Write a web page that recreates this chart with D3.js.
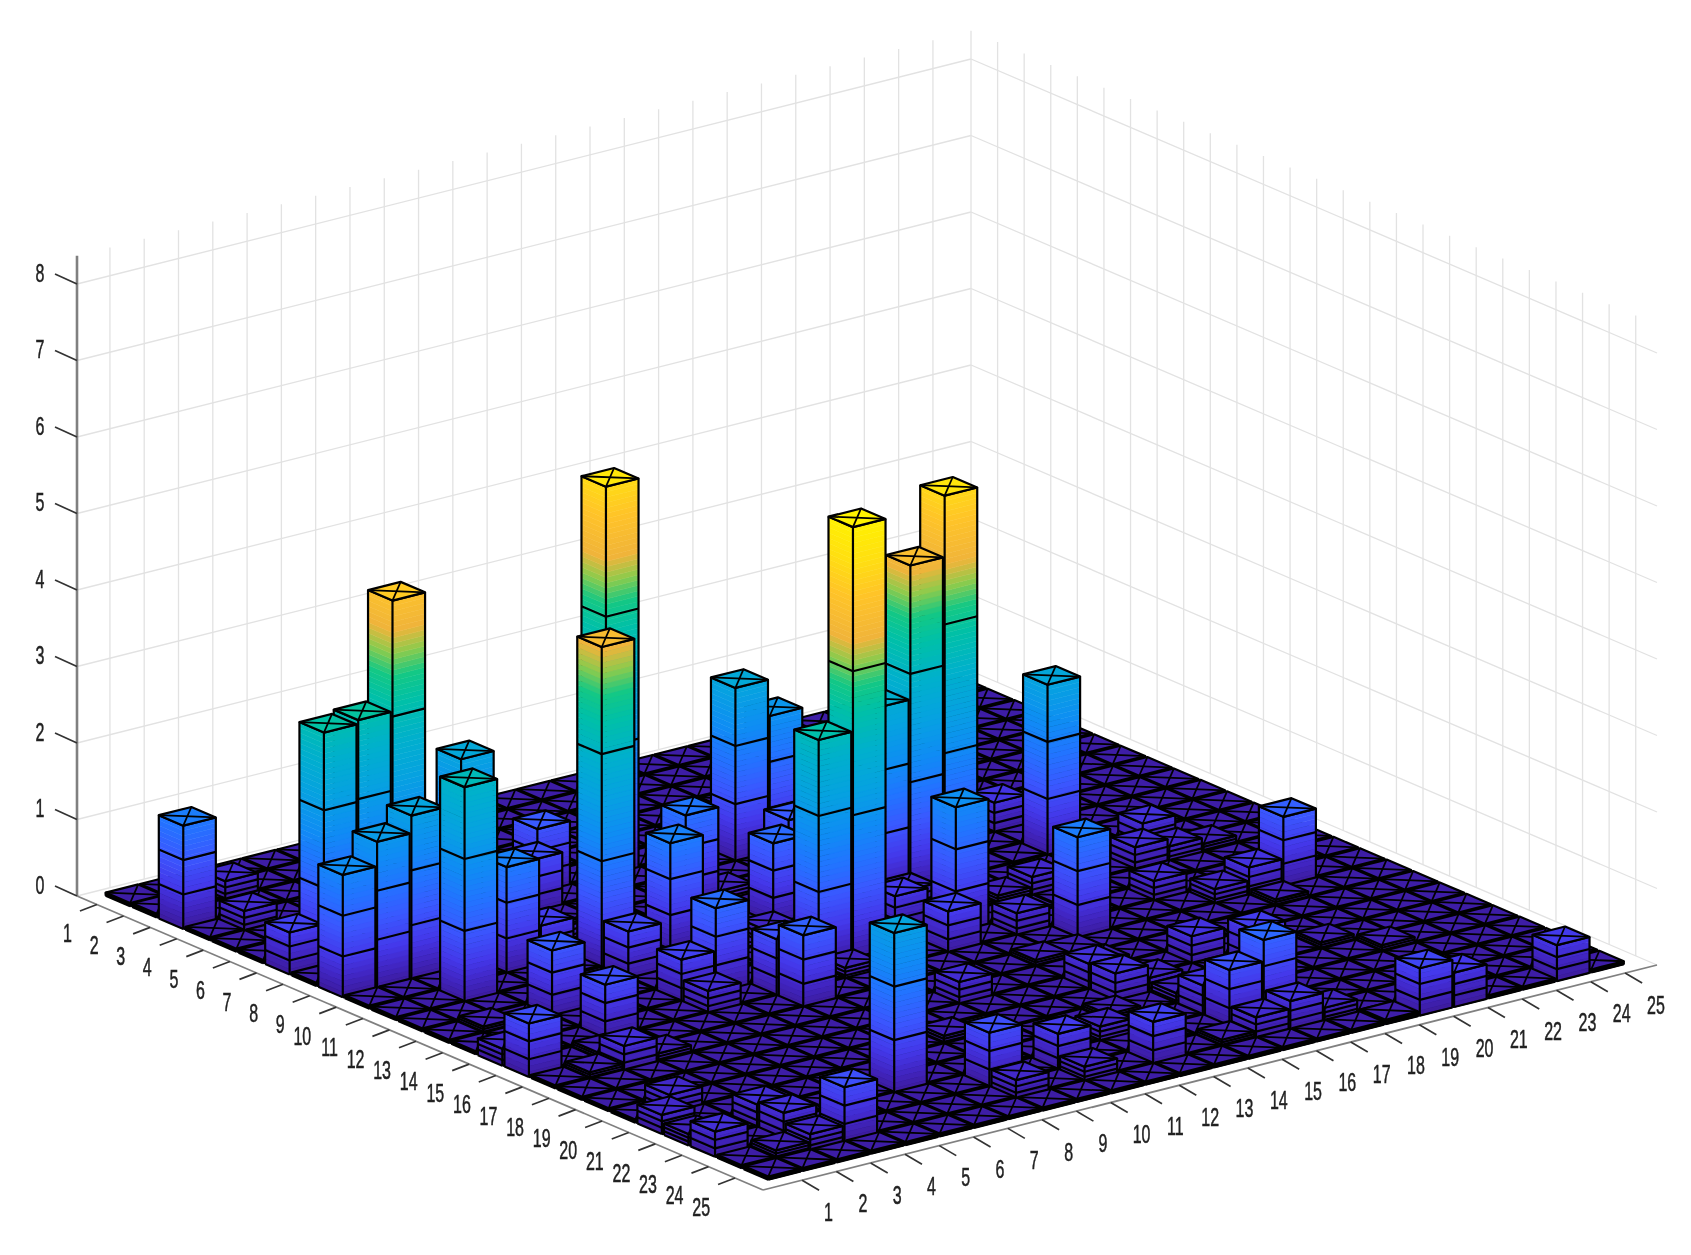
<!DOCTYPE html>
<html><head><meta charset="utf-8">
<script src="https://cdn.jsdelivr.net/npm/d3@7"></script>
<style>html,body{margin:0;background:#fff}svg{display:block}#plot{filter:blur(0.75px)}</style>
</head><body><svg id="c" width="1691" height="1255"></svg>
<script>
const barCol = [1,2,1,1,2,3,3,5,4,2,3,6,7,11,12,11,14,15,16,15,16,17,20,15,17,7,4,9,11,13,9,11,12,15,15,18,17,16,22,23,21,22,20,22,23,21,22,21,22,20,21,24,18,17,16,16,16,19,14,15,19,3,1,2,3,3,1,1,2,3,1,1,2,3,2,4,10,11,15,16,13,3,1,4,4,7,9,11,8,7,7,12,9,9,6,8,9,14,12,11,7,14,15,14,16,20,18,17,16,16];
const barRow = [3,4,7,9,9,9,11,10,7,7,7,7,11,6,14,14,7,7,9,11,11,11,11,14,16,22,24,23,23,24,24,24,18,20,19,19,23,23,16,16,13,12,15,13,13,16,17,20,21,25,25,25,24,24,24,22,21,20,21,24,25,24,23,24,23,22,21,22,20,17,16,15,13,16,17,17,20,15,17,20,22,2,2,13,15,12,11,9,14,14,15,11,16,15,10,7,6,9,9,12,9,13,12,15,15,9,13,13,17,18];
const barHeight = [1.35,.27,.55,1.6,1.92,2.15,2.82,1.4,4.55,3.05,3.1,2.25,4.2,5.1,5.65,2.98,2.28,1.8,1.96,2.5,4.25,5.05,2.24,1.65,1.33,2.1,.72,.72,.48,.56,.25,.2,.3,.37,.35,.37,1.03,.75,.37,.92,.3,.35,.27,.2,.12,.2,.1,.1,.1,.62,.45,.47,.18,.38,.28,.4,.15,.5,.1,.1,.06,.22,.33,.12,.35,.31,.25,.15,.25,.33,.7,.22,.1,.1,.1,.12,.12,.15,.1,.2,.2,.25,.05,.87,.72,.63,1.41,1.25,1.12,.56,.3,1.07,.95,.75,.52,.7,.85,.85,.15,.2,.2,.45,.25,.55,.3,.4,.25,.12,.08,.1];
const floorHeight = 0.04;
const xTicks = d3.range(1,26), yTicks = d3.range(1,26), zTicks = [0,1,2,3,4,5,6,7,8];
const colorStops = [0,.25,.5,.9,1.3,1.7,2.2,2.7,3.2,3.55,3.85,4.15,4.7,5.2,5.7];
const colorValues = ["#3c1a9a","#4126c4","#4438ea","#3a58ff","#2274ff","#0f8cf4","#06a2e0","#00b0cc","#00c0a8","#14c884","#8ccb4c","#f0b43a","#ffc428","#ffe010","#fff200"];

const X = d3.scaleLinear([-0.14,25.93],[0,1]), Y = d3.scaleLinear([0.25,26.05],[0,1]), Z = d3.scaleLinear([0,8],[0,-612]);
const origin=[77,896], ex=[894,-225], ey=[686,294];
const P=(x,y,z)=>[origin[0]+X(x)*ex[0]+Y(y)*ey[0], origin[1]+X(x)*ex[1]+Y(y)*ey[1]+Z(z)];
const col = d3.scaleLinear(colorStops,colorValues).clamp(true);
const svg=d3.select("#c"), g=svg.append("g").attr("id","plot");
const poly=(sel,pts,fill,stroke,sw)=>sel.append("polygon").attr("points",pts.map(p=>p.map(v=>v.toFixed(2)).join(",")).join(" ")).attr("fill",fill).attr("stroke",stroke).attr("stroke-width",sw).attr("stroke-linejoin","round");
const line=(sel,a,b,c,w)=>sel.append("line").attr("x1",a[0]).attr("y1",a[1]).attr("x2",b[0]).attr("y2",b[1]).attr("stroke",c).attr("stroke-width",w);

// walls
const grid=g.append("g"), gc="#e2e2e2", xa=-0.14, xb=25.93, ya=.25, yb=26.05, zt=8.37;
xTicks.forEach(t=>line(grid,P(t-.18,ya,0),P(t-.18,ya,zt),gc,1.3));
yTicks.forEach(t=>line(grid,P(xb,t+.25,0),P(xb,t+.25,zt),gc,1.3));
zTicks.forEach(t=>{line(grid,P(xa,ya,t),P(xb,ya,t),gc,1.3);line(grid,P(xb,ya,t),P(xb,yb,t),gc,1.3);});
line(grid,P(xb,ya,0),P(xb,ya,zt),gc,1.3);

// floor
poly(g,[P(.42,.62,0),P(25.35,.62,0),P(25.35,25.55,0),P(.42,25.55,0)],"#0c0630","#000",1.5);

// bars
const hmap=new Map(barCol.map((c,i)=>[c+"_"+barRow[i],barHeight[i]]));
const bars=g.append("g");
const w=.95, d=.92, lw=2.2;
for(let i=25;i>=1;i--) for(let j=1;j<=25;j++){
  const h=hmap.has(i+"_"+j)?hmap.get(i+"_"+j):floorHeight;
  const x0=i-.6,x1=x0+w,y1=j+.55,y0=y1-d;
  const b=bars.append("g");
  const n=Math.max(1,Math.ceil(h/.07));
  for(let k=0;k<n;k++){
    const a=h*k/n,c=h*(k+1)/n,f=col((a+c)/2);
    poly(b,[P(x0,y1,a),P(x1,y1,a),P(x1,y1,c),P(x0,y1,c)],f,f,.5);
    poly(b,[P(x0,y0,a),P(x0,y1,a),P(x0,y1,c),P(x0,y0,c)],f,f,.5);
  }
  [1,2,3].forEach(s=>{const z=h*s/3;
    line(b,P(x0,y0,z),P(x0,y1,z),"#000",lw);line(b,P(x0,y1,z),P(x1,y1,z),"#000",lw);});
  [[x0,y0],[x0,y1],[x1,y1]].forEach(q=>line(b,P(q[0],q[1],0),P(q[0],q[1],h),"#000",lw));
  line(b,P(x0,y0,0),P(x0,y1,0),"#000",lw);line(b,P(x0,y1,0),P(x1,y1,0),"#000",lw);
  poly(b,[P(x0,y0,h),P(x0,y1,h),P(x1,y1,h),P(x1,y0,h)],col(h*1.05+.03),"#000",lw);
  line(b,P(x0,y0,h),P(x1,y1,h),"#000",lw*.8);line(b,P(x1,y0,h),P(x0,y1,h),"#000",lw*.8);
}

// axes
const ax=g.append("g"), axc="#808080";
line(ax,P(xa,ya,0),P(xa,ya,zt),axc,2.6);
line(ax,P(xa,ya,0),P(xa,yb,0),axc,1.8);
line(ax,P(xa,yb,0),P(xb,yb,0),axc,1.8);
const tk="#333", label=(x,y,t,anchor)=>ax.append("text").attr("transform",`translate(${x},${y}) scale(.64,1)`).attr("text-anchor",anchor).attr("font-family","Liberation Sans").attr("font-size",25).attr("fill","#222").attr("stroke","#222").attr("stroke-width",.5).attr("dy","0.35em").text(t);
yTicks.forEach(t=>{const p=P(xa,t,0);line(ax,p,[p[0]-17,p[1]+6.5],tk,1.7);label(p[0]-25,p[1]+29,t,"end");});
xTicks.forEach(t=>{const p=P(t,yb,0);line(ax,p,[p[0]+17,p[1]+10],tk,1.7);label(p[0]+22,p[1]+32,t,"start");});
zTicks.forEach(t=>{const p=P(xa,ya,t);line(ax,p,[p[0]-22,p[1]-10],tk,1.7);label(p[0]-37,p[1]-11,t,"middle");});
</script></body></html>
